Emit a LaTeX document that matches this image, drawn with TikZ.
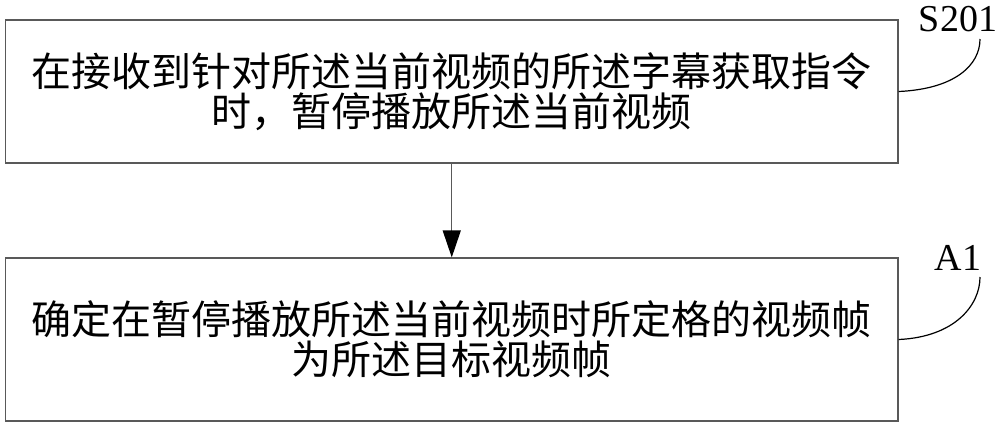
\documentclass[tikz,border=0pt]{standalone}
\usepackage{fontspec}
\setmainfont{Liberation Serif}
\newfontfamily\cjk{Noto Sans CJK SC}
\usetikzlibrary{arrows.meta}
\begin{document}
\begin{tikzpicture}[x=0.5pt,y=-0.5pt]
	\useasboundingbox (0,0) rectangle (1000,424);
	\node[draw=black!65, line width=0.6pt, align=center, inner sep=0pt, minimum width=446.25pt, minimum height=71.5pt, font=\cjk\fontsize{20}{20}\selectfont] (s201) at (451.75,91.5) {在接收到针对所述当前视频的所述字幕获取指令\\时，暂停播放所述当前视频};
	\node[draw=black!65, line width=0.6pt, align=center, inner sep=0pt, minimum width=446.25pt, minimum height=81.5pt, font=\cjk\fontsize{20}{20}\selectfont] (a1) at (451.75,339.5) {确定在暂停播放所述当前视频时所定格的视频帧\\为所述目标视频帧};
	\node[inner sep=0pt, font=\fontsize{19}{19}\selectfont] (s201tag) at (958,19) {S201};
	\node[inner sep=0pt, font=\fontsize{19}{19}\selectfont] (a1tag) at (958,258) {A1};
	\coordinate (s201end) at (980,39);
	\coordinate (a1end) at (980,277);

	\path[draw=black!65,line width=0.6pt,-{Triangle[width=9pt,length=13.5pt,black]}] (s201) -- (a1);

	\path[draw,line width=0.6pt] (s201.east) .. controls (955,89) and (980,65) .. (s201end);
	\path[draw,line width=0.6pt] (a1.east) .. controls (955,337) and (980,305) .. (a1end);
\end{tikzpicture}
\end{document}
